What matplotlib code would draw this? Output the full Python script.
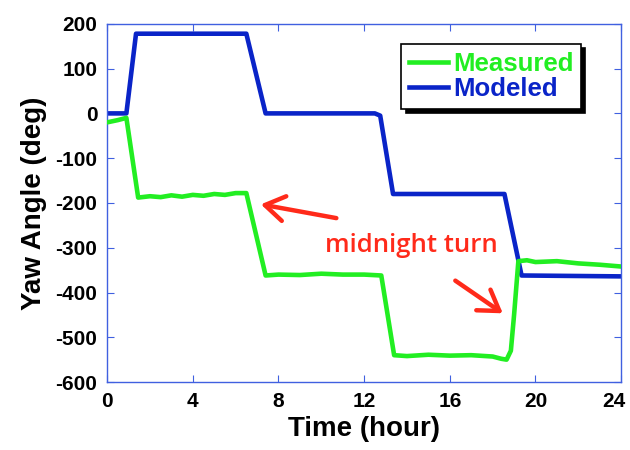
import matplotlib
matplotlib.use('Agg')
import matplotlib.pyplot as plt
import matplotlib.transforms as mtransforms

# --- data ---
modeled_t = [0, 0.9, 1.35, 6.5, 7.4, 12.5, 12.75, 13.35, 18.55, 19.35, 24]
modeled_y = [0, 0, 178, 178, 0, 0, -5, -180, -180, -362, -364]

measured_t = [0, 0.5, 0.9, 1.45, 2, 2.5, 3, 3.5, 4, 4.5, 5, 5.5, 6, 6.5,
              7.4, 8, 9, 10, 11, 12, 12.8, 13.4, 14, 15, 16, 17, 18,
              18.4, 18.65, 18.85, 19.0, 19.2, 19.6, 20, 21, 22, 23, 24]
measured_y = [-20, -15, -10, -188, -185, -187, -183, -186, -182, -184, -180, -182, -178, -178,
              -362, -360, -361, -358, -360, -360, -362, -540, -542, -539, -541, -540, -543,
              -548, -550, -530, -450, -330, -328, -332, -330, -335, -338, -342]

x_ticks = [0, 4, 8, 12, 16, 20, 24]
y_ticks = [-600, -500, -400, -300, -200, -100, 0, 100, 200]

green = '#22EE22'
blue = '#0A24C8'
spine_col = '#4060E0'
red = '#FF2A1A'

plt.rcParams['font.family'] = ['Liberation Sans', 'DejaVu Sans']
plt.rcParams['axes.unicode_minus'] = False

fig = plt.figure(figsize=(6.3, 4.5), dpi=100)
ax = fig.add_axes([0.170, 0.151, 0.816, 0.796])

ax.plot(measured_t, measured_y, color=green, lw=3.3, label='Measured', zorder=3)
ax.plot(modeled_t, modeled_y, color=blue, lw=3.3, label='Modeled', zorder=2)

ax.set_xlim(0, 24)
ax.set_ylim(-600, 200)
ax.set_xticks(x_ticks)
ax.set_yticks(y_ticks)
ax.tick_params(direction='in', top=True, right=True, length=5, color=spine_col,
               labelsize=15, pad=7)
for lab in ax.get_xticklabels() + ax.get_yticklabels():
    lab.set_fontweight('bold')
# nudge the last x label so it stays inside the image
last = ax.get_xticklabels()[-1]
last.set_transform(last.get_transform() +
                   mtransforms.ScaledTranslation(-5 / 72, 0, fig.dpi_scale_trans))
for s in ax.spines.values():
    s.set_color(spine_col)
    s.set_linewidth(1)

ax.set_xlabel('Time (hour)', fontsize=20, fontweight='bold', labelpad=4)
ax.set_ylabel('Yaw Angle (deg)', fontsize=20, fontweight='bold', labelpad=6)

leg = ax.legend(loc='upper right', bbox_to_anchor=(0.922, 0.944),
                prop={'weight': 'bold', 'size': 18.5}, frameon=True, fancybox=False,
                shadow={'color': 'black', 'alpha': 1, 'ox': 3, 'oy': -3}, handlelength=1.5,
                handletextpad=0.2, borderpad=0.3, labelspacing=0.05, borderaxespad=0)
leg.get_frame().set_edgecolor('black')
leg.get_frame().set_linewidth(1.2)
for txt, col in zip(leg.get_texts(), [green, blue]):
    txt.set_color(col)

ax.text(14.2, -296, 'midnight turn', color=red, fontsize=18.5,
        family='Open Sans', fontweight='semibold', ha='center', va='center')
arrow = dict(arrowstyle='->,head_length=0.7,head_width=0.45', color=red, lw=3.2,
             mutation_scale=20)
ax.annotate('', xy=(7.05, -202), xytext=(10.83, -235), arrowprops=arrow)
ax.annotate('', xy=(18.58, -450), xytext=(16.15, -370), arrowprops=arrow)

fig.savefig('out.png', dpi=100)
